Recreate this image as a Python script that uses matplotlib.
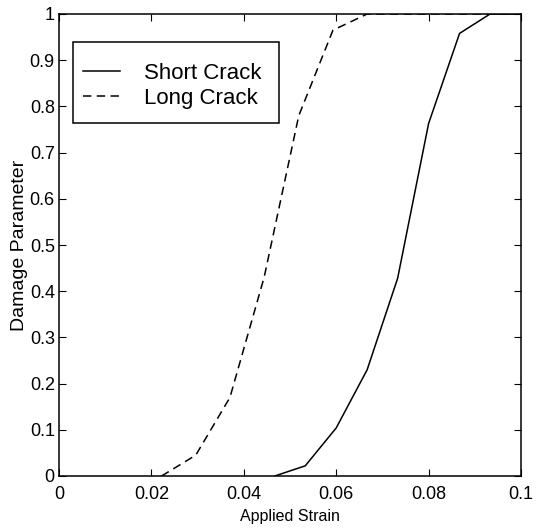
import matplotlib
matplotlib.use("Agg")
import matplotlib.pyplot as plt
from matplotlib.patches import Rectangle

short_x = [0.0467, 0.0533, 0.0600, 0.0667, 0.0733, 0.0800, 0.0867, 0.0933, 0.1000]
short_y = [0.0, 0.022, 0.104, 0.230, 0.428, 0.763, 0.958, 1.0, 1.0]
long_x = [0.0222, 0.0296, 0.0370, 0.0444, 0.0519, 0.0593, 0.0667, 0.0741, 0.1000]
long_y = [0.0, 0.045, 0.170, 0.430, 0.780, 0.965, 1.0, 1.0, 1.0]
xticks = [0, 0.02, 0.04, 0.06, 0.08, 0.1]
xtick_labels = ["0", "0.02", "0.04", "0.06", "0.08", "0.1"]
yticks = [0, 0.1, 0.2, 0.3, 0.4, 0.5, 0.6, 0.7, 0.8, 0.9, 1]
ytick_labels = ["0", "0.1", "0.2", "0.3", "0.4", "0.5", "0.6", "0.7", "0.8", "0.9", "1"]

plt.rcParams['font.family'] = ['Liberation Sans', 'DejaVu Sans']

fig = plt.figure(figsize=(5.36, 5.29), dpi=100)
ax = fig.add_axes([59/536, 1 - 476/529, 462/536, 462/529])

ax.plot(short_x, short_y, color='black', linewidth=1.1, linestyle='-', label='Short Crack')
ax.plot(long_x, long_y, color='black', linewidth=1.1, linestyle=(0, (5.5, 3.5)), label='Long Crack')

ax.set_xlim(0, 0.1)
ax.set_ylim(0, 1)
ax.set_xticks(xticks)
ax.set_xticklabels(xtick_labels)
ax.set_yticks(yticks)
ax.set_yticklabels(ytick_labels)
ax.tick_params(direction='in', top=True, right=True, length=5, width=0.8, labelsize=13)
ax.tick_params(axis='x', pad=7)
ax.tick_params(axis='y', pad=3)
for s in ax.spines.values():
    s.set_linewidth(1.1)

ax.set_xlabel('Applied Strain', fontsize=11.5)
ax.set_ylabel('Damage Parameter', fontsize=14)
ax.xaxis.set_label_coords(0.5, -0.072)
ax.yaxis.set_label_coords(-0.068, 0.5)

leg = ax.legend(loc='upper left', bbox_to_anchor=(0.052, 0.894), borderaxespad=0,
                fontsize=16, frameon=False,
                handlelength=1.67, handletextpad=1.08, borderpad=0, labelspacing=0.18)
ax.add_patch(Rectangle((0.0303, 0.764), 0.476 - 0.0303, 0.939 - 0.764,
                       transform=ax.transAxes, fill=True, facecolor='white',
                       edgecolor='black', linewidth=1.1, zorder=4))
leg.set_zorder(5)

fig.savefig('out.png', dpi=100)
